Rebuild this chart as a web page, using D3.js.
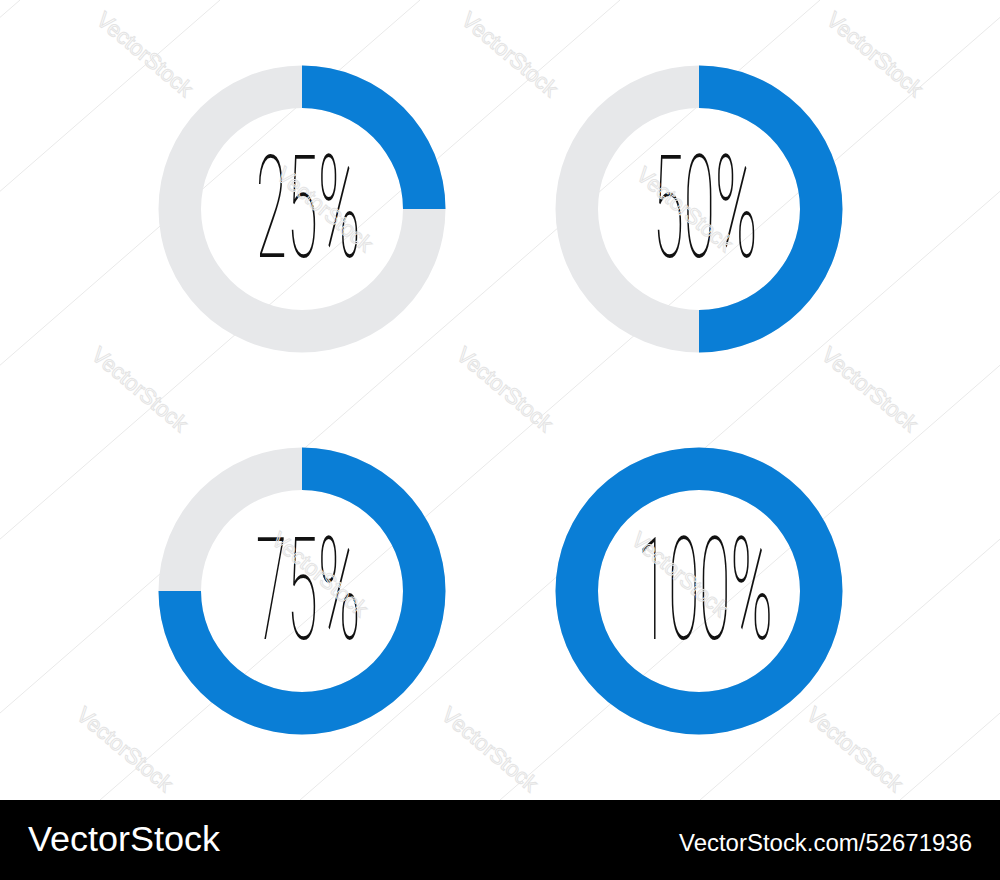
<!DOCTYPE html>
<html><head><meta charset="utf-8">
<script src="https://cdn.jsdelivr.net/npm/d3@7"></script>
<style>html,body{margin:0;padding:0;background:#fff;}svg{display:block;}</style>
</head><body>
<svg id="c" width="1000" height="880"></svg>
<script>
const labels = ["25%", "50%", "75%", "100%"];
const values = [25, 50, 75, 100];
const cols = [0, 1, 0, 1];
const rows = [0, 0, 1, 1];
const footerLeft = "VectorStock";
const footerRight = "VectorStock.com/52671936";

const W = 1000, H = 880;
const svg = d3.select("#c");
const x = d3.scalePoint().domain([0, 1]).range([302, 699]);
const y = d3.scalePoint().domain([0, 1]).range([209, 591]);
const pct = d3.scaleLinear().domain([0, 100]).range([0, 2 * Math.PI]);
const arc = d3.arc().innerRadius(101).outerRadius(143.5);

svg.append("rect").attr("width", W).attr("height", H).attr("fill", "#fff");

// faint watermark lines
const wm = svg.append("g");
const lineOffsets = [-900,-700,-500,-300,-100,100,300,500,700,900,1100,1300];
wm.selectAll("line").data(lineOffsets).join("line")
  .attr("x1", d => d).attr("y1", 800)
  .attr("x2", d => d + 800 * 1.15).attr("y2", 0)
  .attr("stroke", "#e9e9e9").attr("stroke-width", 1);

const g = svg.selectAll("g.donut").data(values).join("g")
  .attr("class", "donut")
  .attr("transform", (d, i) => `translate(${x(cols[i])},${y(rows[i])})`);

g.append("path")
  .attr("d", arc({startAngle: 0, endAngle: 2 * Math.PI}))
  .attr("fill", "#e7e8ea");
g.append("path")
  .attr("d", d => arc({startAngle: 0, endAngle: pct(d)}))
  .attr("fill", "#0a7ed6");

g.append("text")
  .attr("transform", "translate(6,48) scale(0.40,1)")
  .attr("text-anchor", "middle")
  .attr("font-family", "Roboto")
  .attr("font-weight", 100)
  .attr("font-size", 142)
  .attr("fill", "#111")
  .text((d, i) => labels[i]);

// watermark texts
const wmPos = [[140,60],[505,60],[870,60],[135,395],[500,395],[865,395],[120,755],[485,755],[850,755],[320,215],[680,215],[315,580],[675,580]];
svg.append("g").selectAll("text").data(wmPos).join("text")
  .attr("transform", d => `translate(${d[0]},${d[1]}) rotate(40)`)
  .attr("text-anchor", "middle")
  .attr("font-family", "Liberation Sans")
  .attr("font-size", 22)
  .attr("fill", "none")
  .attr("stroke", "#e4e4e4")
  .attr("stroke-width", 1)
  .text("VectorStock");

// footer
svg.append("rect").attr("x", 0).attr("y", 800).attr("width", W).attr("height", 80).attr("fill", "#000");
svg.append("text").attr("x", 28).attr("y", 851)
  .attr("font-family", "Liberation Sans").attr("font-size", 35)
  .attr("textLength", 192).attr("lengthAdjust", "spacingAndGlyphs")
  .attr("fill", "#fff").text(footerLeft);
svg.append("text").attr("x", 679).attr("y", 851)
  .attr("font-family", "Liberation Sans").attr("font-size", 23)
  .attr("textLength", 293).attr("lengthAdjust", "spacingAndGlyphs")
  .attr("fill", "#fff").text(footerRight);
</script>
</body></html>
